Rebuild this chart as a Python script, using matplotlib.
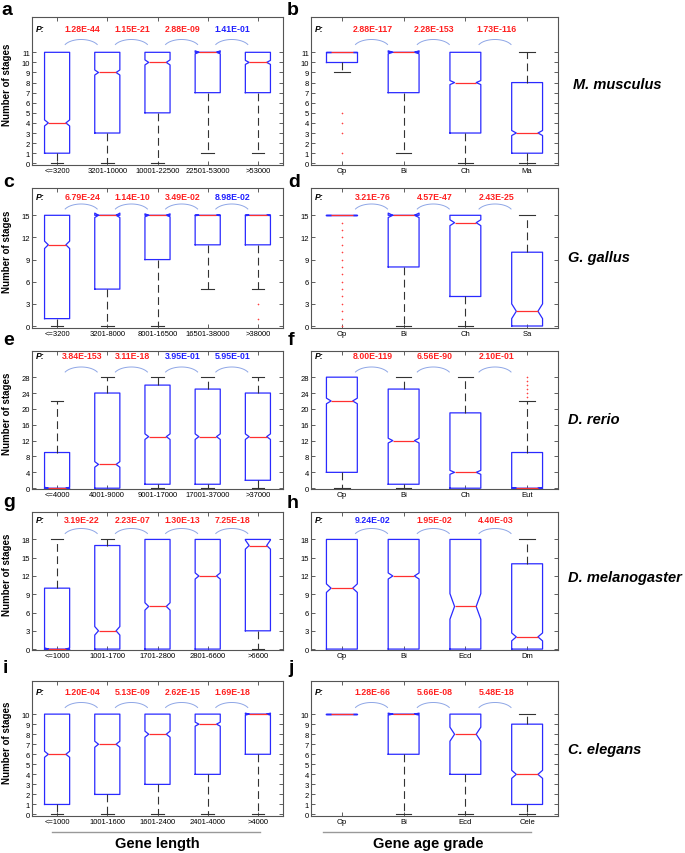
import matplotlib
matplotlib.use('Agg')
import matplotlib.pyplot as plt
import matplotlib.transforms as mtransforms
import numpy as np

plt.rcParams['font.family'] = ['Liberation Sans', 'DejaVu Sans']

# each box: whisker low, q1, median, q3, whisker high, notch low, notch high

# M. musculus
mm_len_labels = ['<=3200', '3201-10000', '10001-22500', '22501-53000', '>53000']
mm_len_boxes = [[0, 1, 4, 11, 11, 3.7, 4.3],
                [0, 3, 9, 11, 11, 8.75, 9.25],
                [0, 5, 10, 11, 11, 9.75, 10.25],
                [1, 7, 11, 11, 11, 10.85, 11.15],
                [1, 7, 10, 11, 11, 9.8, 10.2]]
mm_len_fliers = [[], [], [], [], []]
mm_len_p = ['1.28E-44', '1.15E-21', '2.88E-09', '1.41E-01']
mm_len_sig = [True, True, True, False]

mm_age_labels = ['Op', 'Bi', 'Ch', 'Ma']
mm_age_boxes = [[9, 10, 11, 11, 11, 11, 11],
                [1, 7, 11, 11, 11, 10.85, 11.15],
                [0, 3, 8, 11, 11, 7.8, 8.2],
                [0, 1, 3, 8, 11, 2.75, 3.25]]
mm_age_fliers = [[5, 4, 3, 1], [], [], []]
mm_age_p = ['2.88E-117', '2.28E-153', '1.73E-116']
mm_age_sig = [True, True, True]

# G. gallus
gg_len_labels = ['<=3200', '3201-8000', '8001-16500', '16501-38000', '>38000']
gg_len_boxes = [[0, 1, 11, 15, 15, 10.5, 11.5],
                [0, 5, 15, 15, 15, 14.7, 15.3],
                [0, 9, 15, 15, 15, 14.8, 15.2],
                [5, 11, 15, 15, 15, 14.95, 15.05],
                [5, 11, 15, 15, 15, 14.95, 15.05]]
gg_len_fliers = [[], [], [], [], [3, 1]]
gg_len_p = ['6.79E-24', '1.14E-10', '3.49E-02', '8.98E-02']
gg_len_sig = [True, True, True, False]

gg_age_labels = ['Op', 'Bi', 'Ch', 'Sa']
gg_age_boxes = [[15, 15, 15, 15, 15, 15, 15],
                [0, 8, 15, 15, 15, 14.7, 15.3],
                [0, 4, 14, 15, 15, 13.6, 14.4],
                [0, 0, 2, 10, 15, 1, 3]]
gg_age_fliers = [[0, 1, 2, 3, 4, 5, 6, 7, 8, 9, 10, 11, 12, 13, 14], [], [], []]
gg_age_p = ['3.21E-76', '4.57E-47', '2.43E-25']
gg_age_sig = [True, True, True]

# D. rerio
dr_len_labels = ['<=4000', '4001-9000', '9001-17000', '17001-37000', '>37000']
dr_len_boxes = [[0, 0, 0, 9, 22, -0.25, 0.25],
                [0, 0, 6, 24, 28, 5.3, 6.7],
                [0, 1, 13, 26, 28, 12.3, 13.7],
                [0, 1, 13, 25, 28, 12.3, 13.7],
                [0, 2, 13, 24, 28, 12.3, 13.7]]
dr_len_fliers = [[], [], [], [], []]
dr_len_p = ['3.84E-153', '3.11E-18', '3.95E-01', '5.95E-01']
dr_len_sig = [True, True, False, False]

dr_age_labels = ['Op', 'Bi', 'Ch', 'Eut']
dr_age_boxes = [[0, 4, 22, 28, 28, 21.3, 22.7],
                [0, 1, 12, 25, 28, 11.4, 12.6],
                [0, 0, 4, 19, 28, 3.5, 4.5],
                [0, 0, 0, 9, 22, -0.2, 0.2]]
dr_age_fliers = [[], [], [], [23, 24, 25, 26, 27, 28]]
dr_age_p = ['8.00E-119', '6.56E-90', '2.10E-01']
dr_age_sig = [True, True, True]

# D. melanogaster
dm_len_labels = ['<=1000', '1001-1700', '1701-2800', '2801-6600', '>6600']
dm_len_boxes = [[0, 0, 0, 10, 18, -0.2, 0.2],
                [0, 0, 3, 17, 18, 2.3, 3.7],
                [0, 0, 7, 18, 18, 6.4, 7.6],
                [0, 0, 12, 18, 18, 11.5, 12.5],
                [0, 3, 17, 18, 18, 16.4, 17.9]]
dm_len_fliers = [[], [], [], [], []]
dm_len_p = ['3.19E-22', '2.23E-07', '1.30E-13', '7.25E-18']
dm_len_sig = [True, True, True, True]

dm_age_labels = ['Op', 'Bi', 'Ecd', 'Dm']
dm_age_boxes = [[0, 0, 10, 18, 18, 9.3, 10.7],
                [0, 0, 12, 18, 18, 11.5, 12.5],
                [0, 0, 7, 18, 18, 4.9, 9.1],
                [0, 0, 2, 14, 18, 1.35, 2.65]]
dm_age_fliers = [[], [], [], []]
dm_age_p = ['9.24E-02', '1.95E-02', '4.40E-03']
dm_age_sig = [False, True, True]

# C. elegans
ce_len_labels = ['<=1000', '1001-1600', '1601-2400', '2401-4000', '>4000']
ce_len_boxes = [[0, 1, 6, 10, 10, 5.7, 6.3],
                [0, 2, 7, 10, 10, 6.7, 7.3],
                [0, 3, 8, 10, 10, 7.7, 8.3],
                [0, 4, 9, 10, 10, 8.8, 9.2],
                [0, 6, 10, 10, 10, 9.9, 10.1]]
ce_len_fliers = [[], [], [], [], []]
ce_len_p = ['1.20E-04', '5.13E-09', '2.62E-15', '1.69E-18']
ce_len_sig = [True, True, True, True]

ce_age_labels = ['Op', 'Bi', 'Ecd', 'Cele']
ce_age_boxes = [[10, 10, 10, 10, 10, 10, 10],
                [0, 6, 10, 10, 10, 9.9, 10.1],
                [0, 4, 8, 10, 10, 7.3, 8.7],
                [0, 1, 4, 9, 10, 3.6, 4.4]]
ce_age_fliers = [[], [], [], []]
ce_age_p = ['1.28E-66', '5.66E-08', '5.48E-18']
ce_age_sig = [True, True, True]

species = ['M. musculus', 'G. gallus', 'D. rerio', 'D. melanogaster', 'C. elegans']
row_yticks = [np.arange(0, 12, 1), np.arange(0, 16, 3), np.arange(0, 29, 4),
              np.arange(0, 19, 3), np.arange(0, 11, 1)]

# layout (pixels of a 685x854 figure)
W, H = 685, 854
row_px = [(18, 166), (189, 329), (352, 490), (513, 651), (682, 817)]
col_px = [(32, 283), (311, 558)]
row_ylim = [(-0.17, 14.5), (-0.27, 18.7), (-0.2, 34.6), (-0.15, 22.5), (-0.15, 13.3)]
row_p_off = [12, 8.7, 4.5, 7.7, 11]
row_arc_off = [22.5, 16, 16, 16.5, 21.5]
species_xy = [(573, 85), (568, 258), (568, 420), (568, 578), (568, 750)]
letters = ['a', 'b', 'c', 'd', 'e', 'f', 'g', 'h', 'i', 'j']
letter_xy = [(1, 15), (287, 15), (3, 187), (288, 187), (3, 345), (288, 345),
             (3, 507), (287, 508), (3, 673), (288, 673)]

RED = '#ff2020'
BLUE = '#2020ff'


def px_rect(x0, x1, y0, y1):
    return [x0 / W, 1 - y1 / H, (x1 - x0) / W, (y1 - y0) / H]


def draw_panel(ax, labels, boxes, fliers, pvals, sig, yticks, ylim, p_off, arc_off):
    n = len(labels)
    pos = np.arange(1, n + 1)
    ax_h = ax.get_position().height * H
    ax_w = ax.get_position().width * W
    stats = []
    for lab, b, fl in zip(labels, boxes, fliers):
        stats.append(dict(label=lab, whislo=b[0], q1=b[1], med=b[2], q3=b[3],
                          whishi=b[4], cilo=b[5], cihi=b[6], fliers=fl))
    w = 0.5
    art = ax.bxp(stats, positions=pos, widths=w, capwidths=0.25, shownotches=True,
                 boxprops=dict(color='#2a2aff', lw=0.9),
                 medianprops=dict(color='#ff3030', lw=0.9),
                 whiskerprops=dict(color='#333333', lw=0.8, ls=(0, (7, 4))),
                 capprops=dict(color='#333333', lw=0.8),
                 flierprops=dict(marker='+', ms=2, mew=0.4, mec='#ff4040', ls='none'))
    # shallower notches, like the original
    for i, (bl, ml) in enumerate(zip(art['boxes'], art['medians'])):
        x = np.array(bl.get_xdata(), dtype=float)
        x[3] = pos[i] + 0.35 * w
        x[8] = pos[i] - 0.35 * w
        bl.set_xdata(x)
        ml.set_xdata([pos[i] - 0.35 * w, pos[i] + 0.35 * w])
    for i, b in enumerate(boxes):
        if b[0] == b[1]:
            art['caps'][2 * i].set_visible(False)
        if b[4] == b[3]:
            art['caps'][2 * i + 1].set_visible(False)

    ax.set_xlim(0.5, n + 0.5)
    ax.set_ylim(*ylim)
    ax.set_yticks(yticks)
    ax.set_xticks(pos)
    ax.set_xticklabels(labels)
    ax.tick_params(direction='in', top=True, right=True, length=3, width=0.6,
                   labelsize=5.5, pad=1.5, color='#444444')
    for s in ax.spines.values():
        s.set_color('#555555')
        s.set_linewidth(0.8)

    trans = mtransforms.blended_transform_factory(ax.transData, ax.transAxes)
    ax.text(4 / ax_w, 1 - p_off / ax_h, 'P:', transform=ax.transAxes, fontsize=6.3,
            fontweight='bold', fontstyle='italic', ha='left', va='center')
    hw = 16 / ax_w * n
    y_peak = 1 - arc_off / ax_h
    depth = 5 / ax_h
    t0 = 0.15 * np.pi
    t = np.linspace(t0, np.pi - t0, 40)
    for i, (p, s) in enumerate(zip(pvals, sig)):
        ax.text(pos[i] + 0.5, 1 - p_off / ax_h, p, transform=trans, fontsize=6.3,
                fontweight='bold', color=RED if s else BLUE, ha='center', va='center')
        xc = pos[i] + 0.48
        ax.plot(xc + hw * np.cos(t) / np.cos(t0),
                y_peak - depth + depth * (np.sin(t) - np.sin(t0)) / (1 - np.sin(t0)),
                transform=trans, color='#8ea6e6', lw=0.7, clip_on=False)


fig = plt.figure(figsize=(W / 100, H / 100), dpi=100)

panels = [
    (mm_len_labels, mm_len_boxes, mm_len_fliers, mm_len_p, mm_len_sig),
    (mm_age_labels, mm_age_boxes, mm_age_fliers, mm_age_p, mm_age_sig),
    (gg_len_labels, gg_len_boxes, gg_len_fliers, gg_len_p, gg_len_sig),
    (gg_age_labels, gg_age_boxes, gg_age_fliers, gg_age_p, gg_age_sig),
    (dr_len_labels, dr_len_boxes, dr_len_fliers, dr_len_p, dr_len_sig),
    (dr_age_labels, dr_age_boxes, dr_age_fliers, dr_age_p, dr_age_sig),
    (dm_len_labels, dm_len_boxes, dm_len_fliers, dm_len_p, dm_len_sig),
    (dm_age_labels, dm_age_boxes, dm_age_fliers, dm_age_p, dm_age_sig),
    (ce_len_labels, ce_len_boxes, ce_len_fliers, ce_len_p, ce_len_sig),
    (ce_age_labels, ce_age_boxes, ce_age_fliers, ce_age_p, ce_age_sig),
]

for k, pan in enumerate(panels):
    r, c = divmod(k, 2)
    ax = fig.add_axes(px_rect(col_px[c][0], col_px[c][1], row_px[r][0], row_px[r][1]))
    draw_panel(ax, *pan, row_yticks[r], row_ylim[r], row_p_off[r], row_arc_off[r])
    if c == 0:
        ax.set_ylabel('Number of stages', fontsize=7, fontweight='bold')
        ax.yaxis.set_label_coords(-20 / (col_px[0][1] - col_px[0][0]), 0.55)
    lx, ly = letter_xy[k]
    fig.text(lx / W, 1 - ly / H, letters[k], fontsize=14, fontweight='bold',
             ha='left', va='baseline')

for name, (sx, sy) in zip(species, species_xy):
    fig.text(sx / W, 1 - sy / H, name, fontsize=10.5, fontweight='bold',
             fontstyle='italic', ha='left', va='center')

# bottom group labels
fig.add_artist(plt.Line2D([52 / W, 260 / W], [1 - 833 / H, 1 - 833 / H], color='#999999', lw=1))
fig.add_artist(plt.Line2D([323 / W, 531 / W], [1 - 833 / H, 1 - 833 / H], color='#999999', lw=1))
fig.text(157 / W, 1 - 844 / H, 'Gene length', fontsize=10.5, fontweight='bold',
         ha='center', va='center')
fig.text(428 / W, 1 - 844 / H, 'Gene age grade', fontsize=10.5, fontweight='bold',
         ha='center', va='center')

fig.savefig('out.png', dpi=100)
